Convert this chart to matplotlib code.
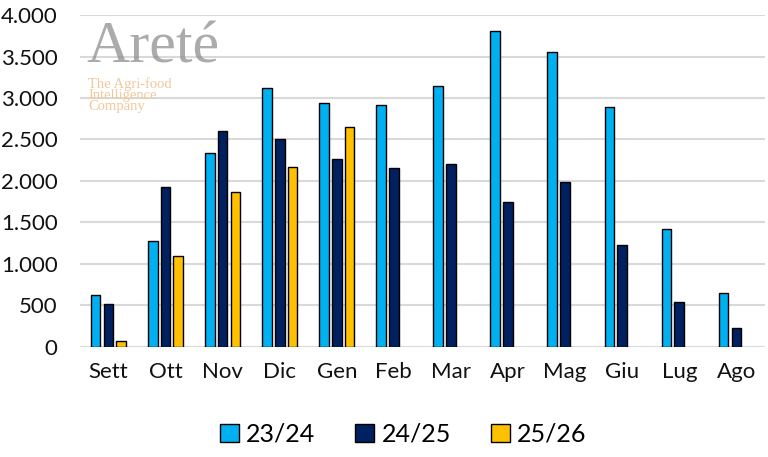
import numpy as np
import matplotlib
matplotlib.use("Agg")
import matplotlib.pyplot as plt
from matplotlib.ticker import FuncFormatter

months = ["Sett", "Ott", "Nov", "Dic", "Gen", "Feb", "Mar", "Apr", "Mag", "Giu", "Lug", "Ago"]
s2324 = [627, 1280, 2340, 3120, 2940, 2920, 3140, 3810, 3550, 2895, 1418, 648]
s2425 = [520, 1930, 2600, 2500, 2260, 2160, 2205, 1752, 1992, 1225, 546, 225]
s2526 = [70, 1090, 1870, 2170, 2650]

series = [("23/24", s2324, "#00B0F0"), ("24/25", s2425, "#002060"), ("25/26", s2526, "#FFC000")]

plt.rcParams["font.family"] = ["Lato", "DejaVu Sans"]

fig = plt.figure(figsize=(7.68, 4.57), dpi=100)
ax = fig.add_axes([0.104, 0.241, 0.892, 0.726])

x = np.arange(len(months))
width = 0.17
offsets = [-0.225, 0.0, 0.225]
for (name, vals, color), off in zip(series, offsets):
    ax.bar(x[:len(vals)] + off, vals, width, color=color, edgecolor="black",
           linewidth=1.0, label=name, zorder=3)

ax.set_ylim(0, 4000)
ax.set_xlim(-0.5, len(months) - 0.5)
ax.set_yticks(range(0, 4001, 500))
ax.yaxis.set_major_formatter(FuncFormatter(lambda v, p: f"{int(v):,}".replace(",", ".")))
ax.set_xticks(x)
ax.set_xticklabels(months)
ax.tick_params(axis="both", length=0, labelsize=16, colors="#111111")
ax.tick_params(axis="x", pad=11)
ax.tick_params(axis="y", pad=16)
ax.grid(axis="y", color="#d9d9d9", linewidth=1.5, zorder=0)
for s in ax.spines.values():
    s.set_visible(False)

# watermark
fig.text(0.113, 0.864, "Areté", family="Liberation Serif", fontsize=43,
         color="#8f8f8f", alpha=0.75)
fig.text(0.115, 0.831, "The Agri-food\nIntelligence\nCompany", family="Liberation Serif",
         fontsize=10.5, color="#f0c89a", linespacing=0.8, va="top")

fig.legend(loc="center", bbox_to_anchor=(0.525, 0.05), ncol=3, frameon=False,
           fontsize=18, handlelength=0.75, handleheight=0.75, handletextpad=0.3,
           columnspacing=1.6)

fig.savefig("out.png", dpi=100)
